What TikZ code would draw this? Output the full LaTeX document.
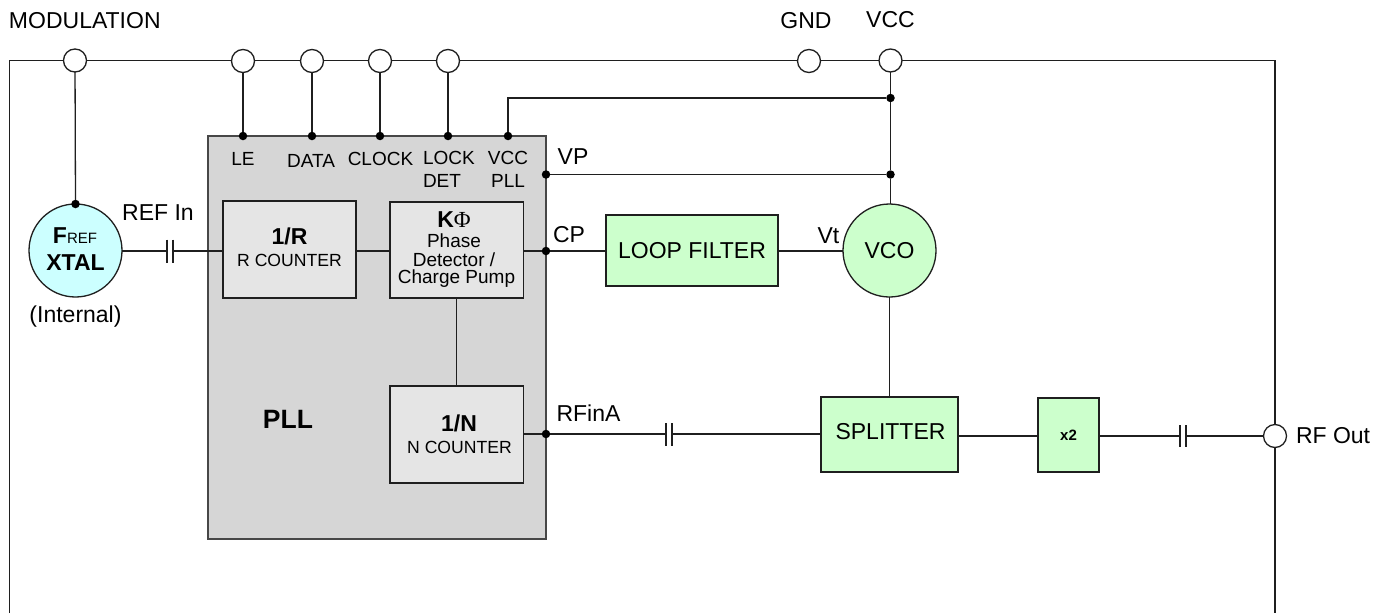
\documentclass[tikz,border=0pt]{standalone}
\usepackage{fontspec}
\setmainfont{Liberation Sans}
\newfontfamily\symserif{Liberation Serif}
\newcommand{\fsz}[1]{\fontsize{#1}{#1}\selectfont}
\definecolor{xtalfill}{HTML}{CCFFFF}
\definecolor{greenfill}{HTML}{CCFFCC}
\tikzset{
  wire/.style={draw=black!88, line width=1.3pt},
  lab/.style={inner sep=0pt, outer sep=0pt, font=\fsz{23}, align=center},
  labsm/.style={inner sep=0pt, outer sep=0pt, font=\fsz{19}, align=center},
  labxs/.style={inner sep=0pt, outer sep=0pt, font=\fsz{17.6}, align=center},
  box/.style={rectangle, draw=black!88, line width=1.3pt, inner sep=0pt, outer sep=0pt},
  greybox/.style={box, fill=black!10},
  greenbox/.style={box, fill=greenfill},
  terminal/.style={circle, draw=black!88, fill=white, line width=1.3pt, minimum size=23pt, inner sep=0pt, outer sep=0pt},
  junction/.style={circle, fill=black, minimum size=8.5pt, inner sep=0pt, outer sep=0pt},
  plate/.style={draw=black!88, line width=1.1pt}
}
\begin{document}
\begin{tikzpicture}[x=1pt,y=-1pt]
\useasboundingbox (0,0) rectangle (1386,613);
\fill[white] (0,0) rectangle (1386,613);
% frame
\coordinate (fbl) at (9.5,613);
\coordinate (ftl) at (9.5,60.5);
\coordinate (ftr) at (1275,60.5);
\coordinate (fbr) at (1275,613);
\draw[wire] (fbl) -- (ftl) -- (ftr) -- (fbr);
% PLL block
\node[box, draw=black!72, fill=black!16, minimum width=338pt, minimum height=403pt] (pll) at (377,337.5) {};
\node[lab, font=\fsz{26.5}\bfseries] (pllt) at (288,419) {PLL};
% terminals
\node[terminal] (tmod) at (75,60.5) {};
\node[terminal] (tle) at (243,61) {};
\node[terminal] (tdata) at (312,61) {};
\node[terminal] (tclock) at (380,61) {};
\node[terminal] (tlock) at (448,61) {};
\node[terminal] (tgnd) at (809,61) {};
\node[terminal] (tvcc) at (890.5,60.5) {};
\node[terminal] (trf) at (1275,436) {};
% terminal labels
\node[lab, anchor=west] (lmod) at (9,21) {MODULATION};
\node[lab] (lgnd) at (806,21) {GND};
\node[lab] (lvcc) at (890.5,20) {VCC};
\node[lab, anchor=west] (lrf) at (1296,436) {RF Out};
% junctions
\node[junction] (dle) at (243,136) {};
\node[junction] (ddata) at (312,136) {};
\node[junction] (dclock) at (380,136) {};
\node[junction] (dlock) at (448,136) {};
\node[junction] (dvccp) at (508,136) {};
\node[junction] (dvp) at (546,174.5) {};
\node[junction] (dcp) at (546,251) {};
\node[junction] (drf) at (546,434) {};
\node[junction] (dtop) at (890.5,98) {};
\node[junction] (dmid) at (890.5,174.5) {};
% blocks
\node[circle, draw=black!88, fill=xtalfill, line width=1.3pt, minimum size=93pt, inner sep=0pt, outer sep=0pt] (xtal) at (75.5,250.5) {};
\node[junction] (dxtal) at (xtal.north) {};
\node[greybox, minimum width=133pt, minimum height=97pt] (rcnt) at (289.5,249.5) {};
\node[greybox, minimum width=133.5pt, minimum height=96pt] (pd) at (456.7,250) {};
\node[greybox, minimum width=133.5pt, minimum height=97pt] (ncnt) at (456.7,434.5) {};
\node[greenbox, minimum width=172pt, minimum height=71pt, font=\fsz{23}] (lf) at (692,250.5) {LOOP FILTER};
\node[circle, draw=black!88, fill=greenfill, line width=1.3pt, minimum size=93pt, inner sep=0pt, outer sep=0pt, font=\fsz{23}] (vco) at (889.5,250.5) {VCO};
\node[greenbox, minimum width=137pt, minimum height=75pt] (spl) at (889.5,434.5) {};
\node[greenbox, minimum width=61pt, minimum height=74pt, font=\fsz{15}\bfseries] (dbl) at (1068.5,435) {x2};
% block text
\node[lab] (lfref) at (75,236) {{\bfseries F}{\fsz{15}REF}};
\node[lab, font=\fsz{23}\bfseries] (lxtal) at (75.5,263) {XTAL};
\node[lab] (lint) at (75.5,316.5) {(Internal)};
\node[lab] (lrefin) at (158,213) {REF In};
\node[lab, font=\fsz{23}\bfseries] (lr) at (289.5,236) {1/R};
\node[labxs] (lrc) at (289.5,260) {R COUNTER};
\node[lab] (lkphi) at (454,220) {\textbf{K}{\symserif Φ}};
\node[labsm] (lpd1) at (454,241) {Phase};
\node[labsm] (lpd2) at (454,260) {Detector /};
\node[labsm] (lpd3) at (456.5,279) {Charge Pump};
\node[lab, font=\fsz{23}\bfseries] (ln) at (459,423) {1/N};
\node[labxs] (lnc) at (459.5,447) {N COUNTER};
\node[lab] (lspl) at (890.5,431.5) {SPLITTER};
% pin labels
\node[labsm] (lle) at (243,159) {LE};
\node[labsm] (ldata) at (311,160.5) {DATA};
\node[labsm] (lclock) at (380.5,159) {CLOCK};
\node[labsm] (llock) at (449,158) {LOCK};
\node[labsm, anchor=west] (ldet) at (423,181) {DET};
\node[labsm] (lvccp) at (508,158) {VCC};
\node[labsm] (lpllp) at (508,181) {PLL};
\node[lab] (lvp) at (573,157) {VP};
\node[lab] (lcp) at (569,235) {CP};
\node[lab] (lvt) at (828.5,236) {Vt};
\node[lab] (lrfa) at (588.5,413) {RFinA};
% capacitors
\coordinate (c1l) at (167,251); \coordinate (c1r) at (173,251);
\coordinate (c1lt) at (167,239.5); \coordinate (c1lb) at (167,262.5);
\coordinate (c1rt) at (173,239.5); \coordinate (c1rb) at (173,262.5);
\coordinate (c2l) at (666,434); \coordinate (c2r) at (672,434);
\coordinate (c2lt) at (666,423); \coordinate (c2lb) at (666,446);
\coordinate (c2rt) at (672,423); \coordinate (c2rb) at (672,446);
\coordinate (c3l) at (1180,436); \coordinate (c3r) at (1186,436);
\coordinate (c3lt) at (1180,425); \coordinate (c3lb) at (1180,447);
\coordinate (c3rt) at (1186,425); \coordinate (c3rb) at (1186,447);
\draw[plate] (c1lt) -- (c1lb) (c1rt) -- (c1rb) (c2lt) -- (c2lb) (c2rt) -- (c2rb) (c3lt) -- (c3lb) (c3rt) -- (c3rb);
% connectors
\draw[wire] (tmod) -- (dxtal);
\draw[wire] (tle) -- (dle);
\draw[wire] (tdata) -- (ddata);
\draw[wire] (tclock) -- (dclock);
\draw[wire] (tlock) -- (dlock);
\draw[wire] (tvcc) -- (dtop);
\draw[wire] (dtop) -- (dmid);
\draw[wire] (dmid) -- (vco.north -| dmid);
\draw[wire] (dtop) -- (dtop -| dvccp) -- (dvccp);
\draw[wire] (dvp) -- (dmid);
\draw[wire] (xtal.east |- c1l) -- (c1l);
\draw[wire] (c1r) -- (rcnt.west |- c1r);
\draw[wire] (rcnt.east |- dcp) -- (pd.west |- dcp);
\draw[wire] (pd.east |- dcp) -- (dcp);
\draw[wire] (dcp) -- (lf.west |- dcp);
\draw[wire] (lf.east |- dcp) -- (vco.west |- dcp);
\draw[wire] (pd.south) -- (ncnt.north);
\draw[wire] (ncnt.east |- drf) -- (drf);
\draw[wire] (drf) -- (c2l);
\draw[wire] (c2r) -- (spl.west |- c2r);
\draw[wire] (vco.south) -- (spl.north -| vco.south);
\draw[wire] (spl.east |- c3l) -- (dbl.west |- c3l);
\draw[wire] (dbl.east |- c3l) -- (c3l);
\draw[wire] (c3r) -- (trf);
\end{tikzpicture}
\end{document}
